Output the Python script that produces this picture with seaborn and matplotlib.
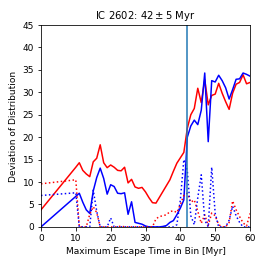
import numpy as np
import pandas as pd
import matplotlib
matplotlib.use("Agg")
import matplotlib.pyplot as plt
import seaborn as sns

# escape time bins [Myr]
t_bins = [0, 10] + list(range(11, 61))

red_solid = [3.8, 13.3,
             14.3, 12.6, 11.8, 11.2, 14.5, 15.3, 18.3, 14.3, 13.2, 13.8,
             13.3, 12.6, 12.5, 13.3, 9.8, 10.6, 8.9, 8.6, 8.8, 7.8,
             6.5, 5.4, 5.3, 6.6, 7.9, 9.2, 10.5, 12.4, 14.2, 15.4,
             16.6, 22.0, 25.0, 26.4, 30.9, 27.7, 32.8, 27.2, 29.3, 29.6,
             32.0, 29.8, 27.9, 26.2, 29.8, 31.8, 32.2, 33.9, 31.9, 32.2]

blue_solid = [0.0, 6.8,
              7.5, 5.5, 3.8, 3.0, 8.0, 11.0, 13.1, 10.8, 7.3, 9.4,
              9.0, 7.5, 7.4, 7.6, 2.8, 5.6, 1.0, 0.8, 0.6, 0.2,
              0.0, 0.0, 0.0, 0.0, 0.1, 0.3, 1.0, 1.4, 2.7, 4.2,
              6.0, 20.0, 22.5, 23.8, 22.8, 26.0, 34.3, 19.0, 32.6, 32.3,
              33.8, 32.6, 31.0, 28.5, 30.6, 32.9, 33.0, 34.3, 34.0, 33.6]

red_dotted = [9.6, 10.5,
              0.0, 0.0, 0.0, 2.8, 4.5, 3.2, 0.0, 0.0, 0.0, 0.0,
              0.0, 0.0, 0.2, 0.0, 0.0, 0.0, 0.0, 0.0, 0.0, 0.0,
              0.0, 0.0, 1.8, 2.3, 2.5, 2.7, 3.4, 3.6, 3.2, 5.0,
              7.0, 7.5, 5.5, 6.0, 3.5, 0.8, 2.7, 0.3, 3.1, 2.5,
              0.5, 0.0, 0.0, 1.0, 5.8, 3.8, 2.3, 0.9, 0.2, 3.0]

blue_dotted = [7.0, 7.6,
               0.0, 0.0, 0.0, 0.0, 8.2, 3.5, 0.0, 0.0, 0.0, 2.0,
               0.0, 0.0, 0.0, 0.0, 0.0, 0.0, 0.0, 0.0, 0.0, 0.0,
               0.0, 0.0, 0.0, 0.0, 0.0, 0.0, 0.0, 0.0, 0.5, 6.0,
               15.0, 12.5, 2.5, 0.5, 6.5, 11.6, 1.5, 0.0, 13.3, 3.0,
               0.0, 0.0, 0.0, 1.5, 4.6, 2.5, 1.0, 0.0, 0.0, 0.0]

age = 42

df = pd.DataFrame({"t": t_bins, "red": red_solid, "blue": blue_solid,
                   "red_d": red_dotted, "blue_d": blue_dotted})

fig = plt.figure(figsize=(266 / 72, 266 / 72), dpi=72)
ax = fig.add_axes([0.154, 0.147, 0.786, 0.759])

sns.lineplot(data=df, x="t", y="red", color="r", lw=1.5, ax=ax)
sns.lineplot(data=df, x="t", y="blue", color="b", lw=1.5, ax=ax)
sns.lineplot(data=df, x="t", y="red_d", color="r", lw=1.5, linestyle=":", ax=ax)
sns.lineplot(data=df, x="t", y="blue_d", color="b", lw=1.5, linestyle=":", ax=ax)
ax.axvline(age, color="C0", lw=1.5)

ax.set_xlim(0, 60)
ax.set_ylim(0, 45)
ax.set_xlabel("Maximum Escape Time in Bin [Myr]", fontsize=9)
ax.set_ylabel("Deviation of Distribution", fontsize=9)
ax.set_title(r"IC 2602: $42 \pm 5$ Myr", fontsize=10)
ax.tick_params(labelsize=9)

fig.savefig("out.png", dpi=72)
